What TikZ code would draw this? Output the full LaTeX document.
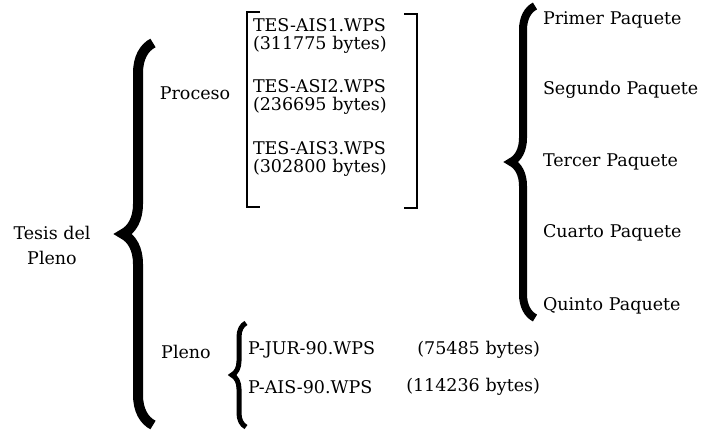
\documentclass[tikz,border=0pt]{standalone}
\usepackage{fontspec}
\setmainfont{DejaVu Serif}
\usetikzlibrary{positioning,decorations.pathreplacing}

\begin{document}
\begin{tikzpicture}[x=1pt,y=-1pt,node distance=18pt,on grid,
    every node/.style={font=\fontsize{17.5}{18}\selectfont,inner sep=0pt},
    filebox/.style={text width=150pt,align=left},
    paquete/.style={text width=165pt,align=left},
    plenofile/.style={text width=140pt,align=left},
    bytes/.style={text width=140pt,align=right},
    bigbrace/.style={decorate,decoration={brace,amplitude=#1},line width=10pt}]

  \useasboundingbox (0,0) rectangle (704,431);

  % left part
  \node[align=center,font=\fontsize{17.5}{25}\selectfont] (tesis) at (52,245) {Tesis del\\Pleno};
  \node (proceso) at (195,93) {Proceso};
  \node (pleno) at (186,352) {Pleno};

  % files of the process
  \node[filebox] (f1) at (328,36) {TES-AIS1.WPS\\(311775 bytes)};
  \node[filebox] (f2) [below = 61pt of f1] {TES-ASI2.WPS\\(236695 bytes)};
  \node[filebox] (f3) [below = 62pt of f2] {TES-AIS3.WPS\\(302800 bytes)};

  % files of the plenum
  \node[plenofile] (jur) at (318,350) {P-JUR-90.WPS};
  \node[plenofile] (ais) [below = 37pt of jur] {P-AIS-90.WPS};
  \node[bytes] (jurb) at (470,350) {(75485 bytes)};
  \node[bytes] (aisb) [below = 37pt of jurb] {(114236 bytes)};

  % packets
  \node[paquete] (p1) at (625.5,20) {Primer Paquete};
  \node[paquete] (p2) [below = 70pt of p1] {Segundo Paquete};
  \node[paquete] (p3) [below = 72pt of p2] {Tercer Paquete};
  \node[paquete] (p4) [below = 71pt of p3] {Cuarto Paquete};
  \node[paquete] (p5) [below = 73pt of p4] {Quinto Paquete};

  % braces
  \draw[bigbrace=30pt] (153,425) -- (153,43);
  \draw[bigbrace=24pt,line width=8pt] (535,318) -- (535,6);
  \draw[bigbrace=14pt,line width=5pt] (246,427) -- (246,323);

  % bracket round the process files
  \draw[line width=1.3pt] (260,12) -- (247,12) -- (247,207) -- (260,207);
  \draw[line width=1.3pt] (404,14) -- (417,14) -- (417,208) -- (404,208);
\end{tikzpicture}
\end{document}
